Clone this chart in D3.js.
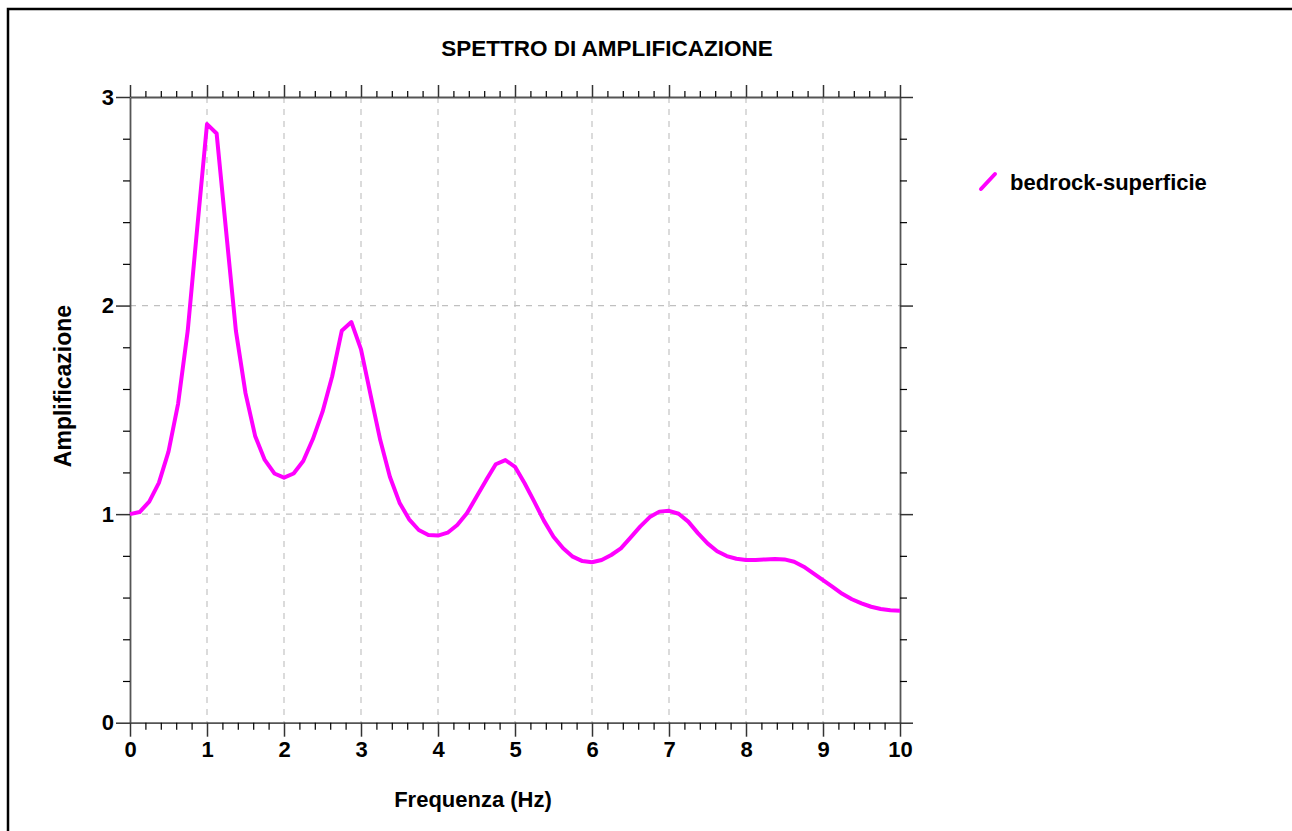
<!DOCTYPE html>
<html>
<head>
<meta charset="utf-8">
<script src="https://cdn.jsdelivr.net/npm/d3@7"></script>
<style>
  body { margin: 0; background: #fff; overflow: hidden; }
  svg { display: block; }
  text { font-family: "Liberation Sans", Arial, sans-serif; font-weight: bold; fill: #000; }
</style>
</head>
<body>
<div id="chart"></div>
<script>
// frequency samples (Hz), every 0.125
const freq = d3.range(0, 81).map(i => i * 0.125);
// amplification
const ampl = [
  1.00, 1.01, 1.06, 1.15, 1.30, 1.53, 1.88, 2.38, 2.87, 2.825,
  2.35, 1.88, 1.58, 1.375, 1.26, 1.195, 1.175, 1.195, 1.255, 1.36,
  1.49, 1.66, 1.879, 1.921, 1.79, 1.571, 1.355, 1.179, 1.055, 0.975,
  0.924, 0.900, 0.897, 0.911, 0.948, 1.004, 1.083, 1.163, 1.239, 1.259,
  1.227, 1.148, 1.06, 0.969, 0.892, 0.836, 0.796, 0.775, 0.769, 0.78,
  0.804, 0.836, 0.887, 0.940, 0.986, 1.012, 1.016, 1.002, 0.964, 0.909,
  0.86, 0.822, 0.799, 0.786, 0.78, 0.78, 0.783, 0.785, 0.783, 0.772,
  0.748, 0.716, 0.684, 0.651, 0.618, 0.592, 0.572, 0.556, 0.545, 0.539,
  0.537
];
const xTicks = d3.range(0, 11);
const yTicks = [0, 1, 2, 3];
const seriesName = "bedrock-superficie";

const width = 1292, height = 831;
const plotLeft = 130, plotRight = 900, plotTop = 97, plotBottom = 722.7;

const svg = d3.select("#chart").append("svg")
  .attr("width", width)
  .attr("height", height);

// outer frame (only top and left edges are inside the picture)
svg.append("path")
  .attr("d", `M8,${height + 5} L8,9 L${width + 5},9`)
  .attr("fill", "none")
  .attr("stroke", "#000")
  .attr("stroke-width", 2.5);

const x = d3.scaleLinear().domain([0, 10]).range([plotLeft, plotRight]);
const y = d3.scaleLinear().domain([0, 3]).range([plotBottom, plotTop]);

// grid
svg.append("g")
  .selectAll("line")
  .data(xTicks.filter(d => d > 0 && d < 10))
  .join("line")
    .attr("x1", d => x(d)).attr("x2", d => x(d))
    .attr("y1", plotTop).attr("y2", plotBottom)
    .attr("stroke", "#c8c8c8")
    .attr("stroke-width", 1.3)
    .attr("stroke-dasharray", "6,6");

svg.append("g")
  .selectAll("line")
  .data(yTicks.filter(d => d > 0 && d < 3))
  .join("line")
    .attr("y1", d => y(d)).attr("y2", d => y(d))
    .attr("x1", plotLeft).attr("x2", plotRight)
    .attr("stroke", "#c0c0c0")
    .attr("stroke-width", 1.3)
    .attr("stroke-dasharray", "6,6");

const minorX = d3.range(0, 51).map(i => i * 0.2).filter(d => Math.abs(d - Math.round(d)) > 1e-6);
const minorY = d3.range(0, 16).map(i => i * 0.2).filter(d => Math.abs(d - Math.round(d)) > 1e-6);

const styleAxis = g => {
  g.select(".domain").attr("stroke", "#555").attr("stroke-width", 1.8);
  g.selectAll(".tick line").attr("stroke", "#000").attr("stroke-width", 1.2);
  g.selectAll("text").remove();
};

// minor ticks, all four sides
svg.append("g").attr("transform", `translate(0,${plotBottom})`)
  .call(d3.axisBottom(x).tickValues(minorX).tickSize(7).tickSizeOuter(0)).call(styleAxis);
svg.append("g").attr("transform", `translate(0,${plotTop})`)
  .call(d3.axisTop(x).tickValues(minorX).tickSize(6).tickSizeOuter(0)).call(styleAxis);
svg.append("g").attr("transform", `translate(${plotLeft},0)`)
  .call(d3.axisLeft(y).tickValues(minorY).tickSize(7).tickSizeOuter(0)).call(styleAxis);
svg.append("g").attr("transform", `translate(${plotRight},0)`)
  .call(d3.axisRight(y).tickValues(minorY).tickSize(7).tickSizeOuter(0)).call(styleAxis);

// major ticks
const majorStyle = g => {
  g.select(".domain").remove();
  g.selectAll(".tick line").attr("stroke", "#333").attr("stroke-width", 1.5);
  g.selectAll("text")
    .style("font-family", '"Liberation Sans", Arial, sans-serif')
    .style("font-weight", "bold")
    .style("font-size", "22px")
    .attr("fill", "#000");
};

svg.append("g").attr("transform", `translate(0,${plotBottom})`)
  .call(d3.axisBottom(x).tickValues(xTicks).tickSize(14).tickPadding(5).tickFormat(d3.format("d")))
  .call(majorStyle);
svg.append("g").attr("transform", `translate(0,${plotTop})`)
  .call(d3.axisTop(x).tickValues(xTicks).tickSize(12).tickFormat(""))
  .call(majorStyle);
svg.append("g").attr("transform", `translate(${plotLeft},0)`)
  .call(d3.axisLeft(y).tickValues(yTicks).tickSize(14).tickPadding(2).tickFormat(d3.format("d")))
  .call(majorStyle);
svg.append("g").attr("transform", `translate(${plotRight},0)`)
  .call(d3.axisRight(y).tickValues(yTicks).tickSize(13).tickFormat(""))
  .call(majorStyle);

// curve
const pts = freq.map((f, i) => [f, ampl[i]]);
svg.append("path")
  .datum(pts)
  .attr("fill", "none")
  .attr("stroke", "#ff00ff")
  .attr("stroke-width", 4)
  .attr("stroke-linejoin", "round")
  .attr("d", d3.line().x(d => x(d[0])).y(d => y(d[1])));

// titles
svg.append("text")
  .attr("x", 607).attr("y", 56)
  .attr("text-anchor", "middle")
  .style("font-size", "22.5px")
  .text("SPETTRO DI AMPLIFICAZIONE");

svg.append("text")
  .attr("x", 473).attr("y", 807)
  .attr("text-anchor", "middle")
  .style("font-size", "22px")
  .text("Frequenza (Hz)");

svg.append("text")
  .attr("transform", "translate(71,386) rotate(-90)")
  .attr("text-anchor", "middle")
  .style("font-size", "23px")
  .text("Amplificazione");

// legend
svg.append("line")
  .attr("x1", 981).attr("y1", 189)
  .attr("x2", 995).attr("y2", 174)
  .attr("stroke", "#ff00ff")
  .attr("stroke-width", 4)
  .attr("stroke-linecap", "round");

svg.append("text")
  .attr("x", 1010).attr("y", 190)
  .style("font-size", "22px")
  .text(seriesName);
</script>
</body>
</html>
